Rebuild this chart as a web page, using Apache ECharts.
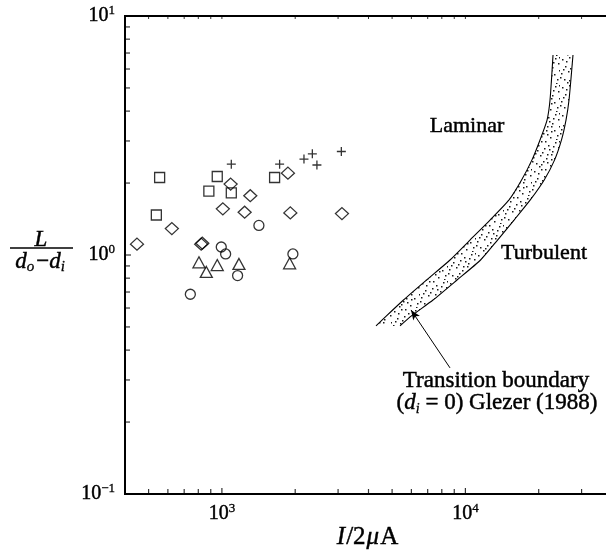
<!DOCTYPE html>
<html>
<head>
<meta charset="utf-8">
<script src="https://cdn.jsdelivr.net/npm/echarts@6/dist/echarts.min.js"></script>
<style>
  html, body { margin: 0; padding: 0; background: #fff; overflow: hidden; }
  #chart { width: 612px; height: 552px; }
</style>
</head>
<body>
<div id="chart"></div>
<script>
// Measured points: jet length ratio L/(do-di) against I/2μA
const squares   = [[555, 2.11], [957, 2.13], [884, 1.85], [1093, 1.82], [538, 1.47], [1646, 2.11]];
const diamonds  = [[1086, 1.98], [1867, 2.20], [1308, 1.77], [1009, 1.56], [1240, 1.51], [1910, 1.50],
                   [3112, 1.49], [623, 1.29], [448, 1.11], [831, 1.12], [822, 1.11]];
const circles   = [[1419, 1.33], [994, 1.08], [1036, 1.01], [1957, 1.01], [1160, 0.82], [742, 0.685]];
const triangles = [[805, 0.932], [863, 0.849], [957, 0.908], [1175, 0.917], [1897, 0.923]];
const pluses    = [[1093, 2.40], [1726, 2.40], [2173, 2.52], [2352, 2.65], [2456, 2.38], [3094, 2.71]];

// Transition band (di = 0), Glezer (1988): two edges sharing the same ordinates
const bandY      = [6.87, 4.45, 3.67, 3.03, 2.50, 2.06, 1.70, 1.40, 1.155, 0.953, 0.786, 0.648, 0.556, 0.505];
const bandLeftX  = [22900, 22260, 21640, 20250, 18770, 17010, 15110, 12620, 10440, 8645, 6930, 5570, 4740, 4295];
const bandRightX = [27660, 26640, 25890, 24810, 23250, 21070, 18470, 15840, 13550, 11540, 9238, 7362, 6003, 5389];

// Arrow from the caption to the band
const arrowFrom = [8645, 0.337];
const arrowTo   = [5979, 0.589];

// Axis ranges and tick values
const xRange = [400, 40000];
const yRange = [0.1, 10];
const xTicks = [500, 600, 700, 800, 900, 1000, 2000, 3000, 4000, 5000, 6000, 7000, 8000, 9000, 10000, 20000, 30000];
const yTicks = [0.2, 0.3, 0.4, 0.5, 0.6, 0.7, 0.8, 0.9, 1, 2, 3, 4, 5, 6, 7, 8, 9];

const FONT = '"Liberation Serif", "Times New Roman", serif';
const INK = '#000';
const HEAVY = 0.45; // slight outline to give the serif text a printed weight

function isPow10(v) {
  const e = Math.log10(v);
  return Math.abs(e - Math.round(e)) < 1e-9;
}
function powLabel(v) {
  if (!isPow10(v)) return '';
  const e = Math.round(Math.log10(v));
  return '{b|10}{s|' + (e < 0 ? '\u2212' + (-e) : e) + '}';
}
const powRich = {
  b: { fontFamily: FONT, fontSize: 20, color: INK, lineHeight: 24, textBorderColor: INK, textBorderWidth: HEAVY },
  s: { fontFamily: FONT, fontSize: 13, color: INK, lineHeight: 12, verticalAlign: 'top', textBorderColor: INK, textBorderWidth: HEAVY * 0.7 }
};

// Stipple texture for the band
function stipple() {
  const c = document.createElement('canvas');
  c.width = 28; c.height = 28;
  const g = c.getContext('2d');
  g.fillStyle = '#1a1a1a';
  const dots = [[2,3],[9,1],[16,5],[23,2],[5,10],[12,8],[20,11],[26,7],[1,17],[8,15],
                [15,14],[22,18],[4,23],[11,21],[18,25],[25,23],[13,1],[19,19],[7,26],[27,14],
                [10,12],[17,9],[3,13],[24,27],[6,5],[21,6],[14,18],[0,21],[27,1],[9,24],
                [19,14],[15,22]];
  dots.forEach(([x, y]) => g.fillRect(x, y, 1.5, 1.5));
  return c;
}
const stippleImg = stipple();

// Inward tick marks drawn as thin rectangles at each tick value
function tickSeries(values, kind) {
  return {
    type: 'scatter',
    silent: true,
    clip: false,
    z: 5,
    symbol: 'rect',
    itemStyle: { color: INK },
    data: values.map(v => {
      const len = isPow10(v) ? 6 : 5;
      if (kind === 'y') return { value: [xRange[0], v], symbolSize: [len, 1.2], symbolOffset: [len / 2, 0] };
      if (kind === 'top') return { value: [v, yRange[1]], symbolSize: [1, 3], symbolOffset: [0, 1.5] };
      return { value: [v, yRange[0]], symbolSize: [1.2, len], symbolOffset: [0, -len / 2] };
    })
  };
}

function markerSeries(data, symbol, size) {
  return {
    type: 'scatter',
    data,
    symbol,
    symbolSize: size,
    z: 6,
    itemStyle: { color: 'transparent', borderColor: INK, borderWidth: 1.3 }
  };
}

// Rich-text token for graphic texts (zrender style names)
function tok(size, italic, extra) {
  return Object.assign({
    fontFamily: FONT, fontSize: size, fontStyle: italic ? 'italic' : 'normal',
    fill: INK, stroke: INK, lineWidth: HEAVY
  }, extra || {});
}

function heavyText(x, y, text, size, extra) {
  return {
    type: 'text', x, y,
    style: Object.assign({
      text, font: size + 'px ' + FONT, fill: INK, stroke: INK, lineWidth: HEAVY,
      align: 'center', verticalAlign: 'middle'
    }, extra || {})
  };
}

const chart = echarts.init(document.getElementById('chart'), null, { renderer: 'canvas' });

chart.setOption({
  animation: false,
  backgroundColor: '#fff',
  grid: { left: 125, right: 0, top: 16, bottom: 58, show: true, borderColor: INK, borderWidth: 2, backgroundColor: 'transparent' },
  xAxis: {
    type: 'log', logBase: 10, min: xRange[0], max: xRange[1],
    axisLine: { show: false }, axisTick: { show: false }, splitLine: { show: false },
    axisLabel: { formatter: powLabel, margin: 8, rich: powRich, showMinLabel: false, showMaxLabel: false }
  },
  yAxis: {
    type: 'log', logBase: 10, min: yRange[0], max: yRange[1],
    axisLine: { show: false }, axisTick: { show: false }, splitLine: { show: false },
    axisLabel: { formatter: powLabel, margin: 10, rich: powRich }
  },
  series: [
    {
      type: 'custom',
      coordinateSystem: 'cartesian2d',
      silent: true,
      z: 2,
      data: [[bandLeftX[0], bandY[0]]],
      renderItem(params, api) {
        const pts = [];
        for (let i = 0; i < bandY.length; i++) pts.push(api.coord([bandLeftX[i], bandY[i]]));
        for (let i = bandY.length - 1; i >= 0; i--) pts.push(api.coord([bandRightX[i], bandY[i]]));
        return { type: 'polygon', shape: { points: pts }, style: { fill: { image: stippleImg, repeat: 'repeat' }, stroke: null } };
      }
    },
    {
      type: 'line', silent: true, z: 3, showSymbol: false, smooth: 0.2,
      data: bandLeftX.map((x, i) => [x, bandY[i]]),
      lineStyle: { color: INK, width: 1.1 },
      markLine: {
        silent: true, symbol: ['none', 'arrow'], symbolSize: [6, 10],
        label: { show: false },
        lineStyle: { color: INK, width: 1, type: 'solid' },
        data: [[{ coord: arrowFrom }, { coord: arrowTo }]]
      }
    },
    {
      type: 'line', silent: true, z: 3, showSymbol: false, smooth: 0.2,
      data: bandRightX.map((x, i) => [x, bandY[i]]),
      lineStyle: { color: INK, width: 1.1 }
    },
    tickSeries(xTicks, 'x'),
    tickSeries(xTicks, 'top'),
    tickSeries(yTicks, 'y'),
    markerSeries(squares, 'rect', 10),
    markerSeries(diamonds, 'diamond', [13, 12]),
    markerSeries(circles, 'circle', 10),
    markerSeries(triangles, 'triangle', [12, 11]),
    markerSeries(pluses, 'path://M0,5L10,5M5,0L5,10', 9)
  ],
  graphic: [
    heavyText(467, 126, 'Laminar', 22),
    heavyText(544, 253, 'Turbulent', 22),
    heavyText(496, 381, 'Transition boundary', 23),
    heavyText(497, 403, '({i|d}{si|i} = 0) Glezer (1988)', 23, {
      lineHeight: 26,
      rich: {
        i: tok(23, true, { lineHeight: 26 }),
        si: tok(14, true, { lineHeight: 12, verticalAlign: 'bottom', lineWidth: HEAVY * 0.7 })
      }
    }),
    // y-axis title: L / (do - di)
    heavyText(41, 240, 'L', 23, { font: 'italic 23px ' + FONT }),
    { type: 'line', shape: { x1: 10, y1: 248, x2: 73, y2: 248 }, style: { stroke: INK, lineWidth: 1.3 } },
    { type: 'text', x: 41, y: 262, style: {
        text: '{i|d}{s|o}{m|\u2212}{i|d}{s|i}', align: 'center', verticalAlign: 'middle', lineHeight: 26,
        rich: {
          i: tok(23, true, { lineHeight: 26 }),
          s: tok(15, true, { lineHeight: 12, verticalAlign: 'bottom', padding: [0, 2, 0, 0], lineWidth: HEAVY * 0.7 }),
          m: tok(23, false, { lineHeight: 26 })
        }
    } },
    // x-axis title: I/2μA
    { type: 'text', x: 367, y: 537, style: {
        text: '{i|I}{r|/2}{i|\u03bc}{r|A}', align: 'center', verticalAlign: 'middle', lineHeight: 28,
        rich: {
          i: tok(25, true, { lineHeight: 28, padding: [0, 1, 0, 1] }),
          r: tok(25, false, { lineHeight: 28 })
        }
    } }
  ]
});
</script>
</body>
</html>
